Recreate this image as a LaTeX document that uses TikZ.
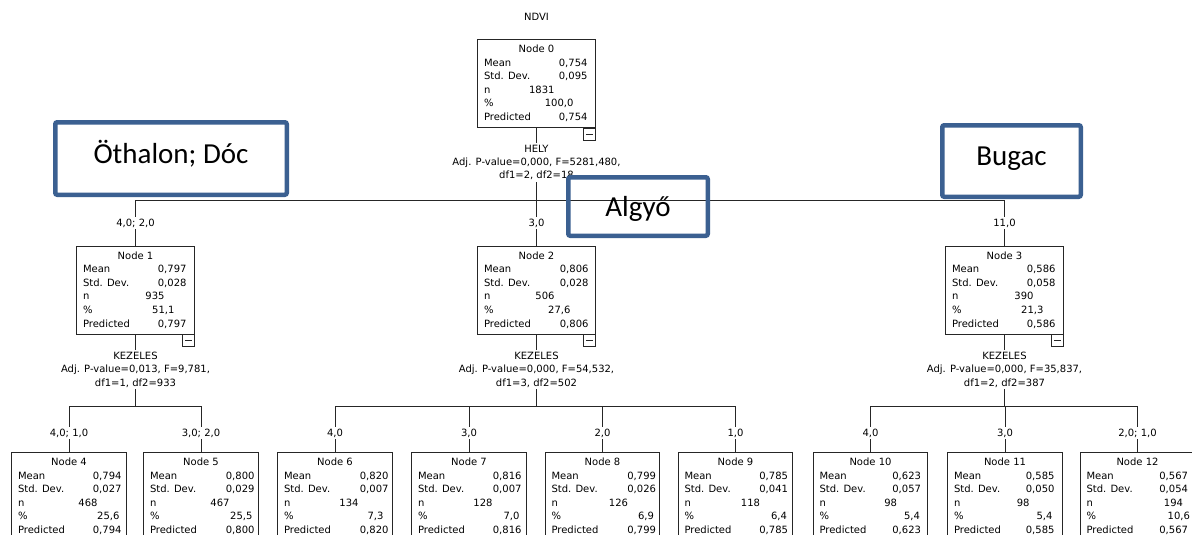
\documentclass[tikz,border=0pt]{standalone}
\usepackage{fontspec}
\newfontfamily\spss{DejaVu Sans}
\newfontfamily\calib{Carlito}
\definecolor{shapeblue}{RGB}{59,96,145}
\tikzset{
  sbox/.style={draw=black!85, line width=0.9pt, fill=white, rectangle, inner sep=0pt},
  stxt/.style={font=\spss\fontsize{10}{12}\selectfont, inner sep=0pt},
  elab/.style={font=\spss\fontsize{10}{12}\selectfont, fill=white, inner sep=1.5pt},
  slab/.style={font=\spss\fontsize{10}{13.4}\selectfont, fill=white, align=center, inner sep=1.5pt},
  conn/.style={line width=0.9pt, draw=black!85},
  minusbox/.style={draw=black!85, line width=0.9pt, fill=white, minimum size=12pt, inner sep=0pt,
    path picture={\draw[line width=0.9pt] ([xshift=2.5pt]path picture bounding box.west) -- ([xshift=-2.5pt]path picture bounding box.east);}},
  bluebox/.style={draw=shapeblue, line width=4.5pt, rounded corners=2pt, inner sep=0pt},
  bigtxt/.style={font=\calib\fontsize{29}{34}\selectfont, inner sep=0pt},
}
\newcommand\offs[3]{\def\noff{#1pt}\def\poff{#2pt}\def\moff{#3pt}}
\newcommand\statbox[9]{%
  \node[sbox, minimum width=\boxw, minimum height=\boxh, anchor=north] (#1) at (#2,#3) {};
  \node[stxt, anchor=base] (#1-t) at ([yshift=-13.5pt]#1.north) {#4};
  \node[stxt, anchor=base west] (#1-la) at ([xshift=6.5pt,yshift=-27.1pt]#1.north west) {Mean};
  \node[stxt, anchor=base west] (#1-lb) at ([xshift=6.5pt,yshift=-40.7pt]#1.north west) {Std. Dev.};
  \node[stxt, anchor=base west] (#1-lc) at ([xshift=6.5pt,yshift=-54.3pt]#1.north west) {n};
  \node[stxt, anchor=base west] (#1-ld) at ([xshift=6.5pt,yshift=-67.9pt]#1.north west) {\%};
  \node[stxt, anchor=base west] (#1-le) at ([xshift=6.5pt,yshift=-81.5pt]#1.north west) {Predicted};
  \node[stxt, anchor=base east] (#1-va) at ([xshift=-\moff,yshift=-27.1pt]#1.north east) {#5};
  \node[stxt, anchor=base east] (#1-vb) at ([xshift=-\moff,yshift=-40.7pt]#1.north east) {#6};
  \node[stxt, anchor=base east] (#1-vc) at ([xshift=-\noff,yshift=-54.3pt]#1.north east) {#7};
  \node[stxt, anchor=base east] (#1-vd) at ([xshift=-\poff,yshift=-67.9pt]#1.north east) {#8};
  \node[stxt, anchor=base east] (#1-ve) at ([xshift=-\moff,yshift=-81.5pt]#1.north east) {#9};
}
\begin{document}
\begin{tikzpicture}[x=1pt,y=-1pt]
\useasboundingbox (0,0) rectangle (1192,535);
\clip (0,0) rectangle (1192,535);
\fill[white] (0,0) rectangle (1192,535);

\node[stxt] (title) at (536.5,17) {NDVI};

% internal nodes
\def\boxw{117.5pt}\def\boxh{88pt}
\offs{41}{22}{8}\statbox{n0}{536.5}{39}{Node 0}{0,754}{0,095}{1831}{100,0}{0,754}
\offs{30}{20}{8}\statbox{n1}{135.5}{245.5}{Node 1}{0,797}{0,028}{935}{51,1}{0,797}
\offs{41}{25}{7}\statbox{n2}{536.5}{245.5}{Node 2}{0,806}{0,028}{506}{27,6}{0,806}
\offs{30}{20}{8}\statbox{n3}{1004.5}{245.5}{Node 3}{0,586}{0,058}{390}{21,3}{0,586}

% leaves
\def\boxw{114.5pt}\def\boxh{90pt}
\offs{29}{7}{5}\statbox{n4}{69}{452}{Node 4}{0,794}{0,027}{468}{25,6}{0,794}
\offs{29}{6}{4}\statbox{n5}{201}{452}{Node 5}{0,800}{0,029}{467}{25,5}{0,800}
\offs{34}{9}{4}\statbox{n6}{335}{452}{Node 6}{0,820}{0,007}{134}{7,3}{0,820}
\offs{34}{7}{5}\statbox{n7}{469}{452}{Node 7}{0,816}{0,007}{128}{7,0}{0,816}
\offs{32}{6}{4}\statbox{n8}{602.5}{452}{Node 8}{0,799}{0,026}{126}{6,9}{0,799}
\offs{33}{6}{5}\statbox{n9}{735.5}{452}{Node 9}{0,785}{0,041}{118}{6,4}{0,785}
\offs{31}{8}{7}\statbox{n10}{870.5}{452}{Node 10}{0,623}{0,057}{98}{5,4}{0,623}
\offs{33}{10}{8}\statbox{n11}{1005}{452}{Node 11}{0,585}{0,050}{98}{5,4}{0,585}
\offs{12}{5}{7}\statbox{n12}{1137.5}{452}{Node 12}{0,567}{0,054}{194}{10,6}{0,567}

% minus buttons
\node[minusbox, anchor=north east] (n0m) at (n0.south east) {};
\node[minusbox, anchor=north east] (n1m) at (n1.south east) {};
\node[minusbox, anchor=north east] (n2m) at (n2.south east) {};
\node[minusbox, anchor=north east] (n3m) at (n3.south east) {};

% bar coordinates
\coordinate (b0) at (536.5,200);
\coordinate (b1) at (135.5,200);
\coordinate (b3) at (1004.5,200);
\coordinate (c1) at (135.5,406);
\coordinate (c4) at (69,406);
\coordinate (c5) at (201,406);
\coordinate (c2) at (536.5,406);
\coordinate (c6) at (335,406);
\coordinate (c7) at (469,406);
\coordinate (c8) at (602.5,406);
\coordinate (c9) at (735.5,406);
\coordinate (c3) at (1004.5,406);
\coordinate (c10) at (870.5,406);
\coordinate (c11) at (1005,406);
\coordinate (c12) at (1137.5,406);

% connectors
\draw[conn] (n0.south) -- (b0);
\draw[conn] (b1) -- (b3);
\draw[conn] (b1) -- (n1.north);
\draw[conn] (b0) -- (n2.north);
\draw[conn] (b3) -- (n3.north);
\draw[conn] (n1.south) -- (c1);
\draw[conn] (c4) -- (c5);
\draw[conn] (c4) -- (n4.north);
\draw[conn] (c5) -- (n5.north);
\draw[conn] (n2.south) -- (c2);
\draw[conn] (c6) -- (c9);
\draw[conn] (c6) -- (n6.north);
\draw[conn] (c7) -- (n7.north);
\draw[conn] (c8) -- (n8.north);
\draw[conn] (c9) -- (n9.north);
\draw[conn] (n3.south) -- (c3);
\draw[conn] (c10) -- (c12);
\draw[conn] (c10) -- (n10.north);
\draw[conn] (c11) -- (n11.north);
\draw[conn] (c12) -- (n12.north);

% split labels
\node[slab] (s0) at (536.5,162.5) {HELY\\Adj. P-value=0,000, F=5281,480,\\df1=2, df2=18};
\node[slab] (s1) at (135.5,369.5) {KEZELES\\Adj. P-value=0,013, F=9,781,\\df1=1, df2=933};
\node[slab] (s2) at (536.5,369.5) {KEZELES\\Adj. P-value=0,000, F=54,532,\\df1=3, df2=502};
\node[slab] (s3) at (1004.5,369.5) {KEZELES\\Adj. P-value=0,000, F=35,837,\\df1=2, df2=387};

% edge labels
\node[elab] (e1) at (135.5,223) {4,0; 2,0};
\node[elab] (e2) at (536.5,223) {3,0};
\node[elab] (e3) at (1004.5,223) {11,0};
\node[elab] (e4) at (69,433) {4,0; 1,0};
\node[elab] (e5) at (201,433) {3,0; 2,0};
\node[elab] (e6) at (335,433) {4,0};
\node[elab] (e7) at (469,433) {3,0};
\node[elab] (e8) at (602.5,433) {2,0};
\node[elab] (e9) at (735.5,433) {1,0};
\node[elab] (e10) at (870.5,433) {4,0};
\node[elab] (e11) at (1005,433) {3,0};
\node[elab] (e12) at (1137.5,433) {2,0; 1,0};

% callout boxes
\node[bluebox, minimum width=231.5pt, minimum height=72.5pt] (lab1) at (171,158.5) {};
\node[bigtxt, anchor=base] (lab1t) at (171,163) {Öthalon; Dóc};
\node[bluebox, minimum width=138.5pt, minimum height=71.5pt] (lab3) at (1011.5,161) {};
\node[bigtxt, anchor=base] (lab3t) at (1011.5,165) {Bugac};
\node[bluebox, minimum width=139.5pt, minimum height=58.5pt] (lab2) at (638,206.5) {};
\node[bigtxt, anchor=base] (lab2t) at (638,216.5) {Algyő};
\end{tikzpicture}
\end{document}
